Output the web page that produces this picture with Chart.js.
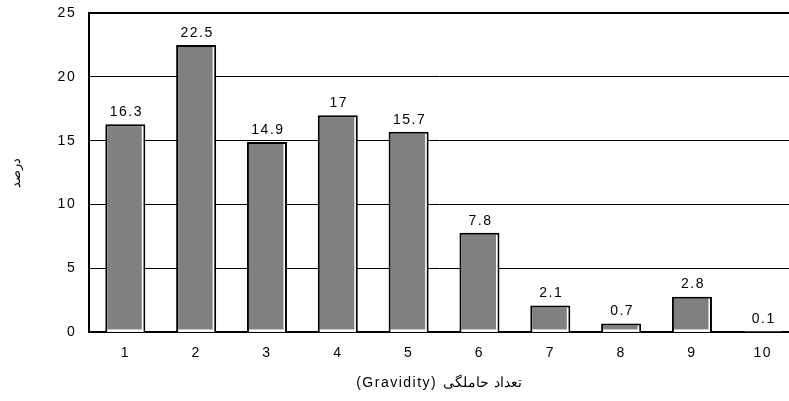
<!DOCTYPE html>
<html>
<head>
<meta charset="utf-8">
<script src="https://cdn.jsdelivr.net/npm/chart.js@4/dist/chart.umd.min.js"></script>
<style>
  html, body { margin: 0; padding: 0; background: #ffffff; }
  canvas { display: block; }
</style>
</head>
<body>
<canvas id="chart" width="789" height="401"></canvas>
<script>
// Gravidity categories and share of women (percent) in each
const gravidity = [1, 2, 3, 4, 5, 6, 7, 8, 9, 10];
const percent = [16.3, 22.5, 14.9, 17, 15.7, 7.8, 2.1, 0.7, 2.8, 0.1];
const yTickValues = [0, 5, 10, 15, 20, 25];
const xTitle = '(Gravidity) تعداد حاملگی';
const yTitle = 'درصد';

const FONT = "'Liberation Sans', Arial, sans-serif";

// All text on this chart is drawn slightly letter-spaced
const spacingPlugin = {
  id: 'spacing',
  beforeInit(chart) {
    const ctx = chart.ctx;
    const fill = ctx.fillText.bind(ctx);
    const measure = ctx.measureText.bind(ctx);
    const withSpacing = (fn) => {
      const prev = ctx.letterSpacing;
      ctx.letterSpacing = '1.5px';
      const r = fn();
      ctx.letterSpacing = prev;
      return r;
    };
    ctx.fillText = (t, x, y, m) => withSpacing(() => m === undefined ? fill(t, x, y) : fill(t, x, y, m));
    ctx.measureText = (t) => withSpacing(() => measure(t));
  }
};

// Inner white edge on each bar plus the value written above it
const barDecor = {
  id: 'barDecor',
  afterDatasetsDraw(chart) {
    const ctx = chart.ctx;
    const meta = chart.getDatasetMeta(0);
    ctx.save();
    meta.data.forEach((bar, i) => {
      const { x, y, base, width } = bar.getProps(['x', 'y', 'base', 'width'], true);
      const left = x - width / 2;
      const right = x + width / 2;
      const h = base - y;
      ctx.fillStyle = '#ffffff';
      if (h > 4) {
        ctx.fillRect(right - 3.5, y + 2, 1.5, h - 2);
        ctx.fillRect(left + 2, base - 2.5, width - 4, 2.5);
      }
      ctx.fillStyle = '#000000';
      ctx.font = '14px ' + FONT;
      ctx.textAlign = 'center';
      ctx.textBaseline = 'bottom';
      ctx.fillText(String(percent[i]), x + 1, y - 5);
    });
    ctx.restore();
  }
};

new Chart(document.getElementById('chart'), {
  type: 'bar',
  data: {
    datasets: [{
      data: gravidity.map((g, i) => ({ x: g, y: percent[i] })),
      backgroundColor: '#808080',
      borderColor: '#000000',
      borderWidth: { top: 2, left: 2, right: 2, bottom: 0 },
      borderSkipped: false,
      barPercentage: 0.565,
      categoryPercentage: 1.0
    }]
  },
  options: {
    responsive: false,
    animation: false,
    events: [],
    layout: { padding: { top: 13, right: 0, bottom: 9, left: 9 } },
    plugins: {
      legend: { display: false },
      tooltip: { enabled: false }
    },
    scales: {
      x: {
        type: 'linear',
        offset: false,
        min: 0.49,
        max: 10.37,
        z: 1,
        afterBuildTicks(scale) {
          scale.ticks = gravidity.map(v => ({ value: v }));
        },
        grid: { display: false, drawTicks: false },
        border: { display: true, color: '#000000', width: 2 },
        ticks: {
          color: '#000000',
          font: { family: FONT, size: 14 },
          padding: 12,
          autoSkip: false,
          maxRotation: 0,
          callback: v => String(v)
        },
        title: {
          display: true,
          text: xTitle,
          color: '#000000',
          font: { family: FONT, size: 14 },
          padding: { top: 2, bottom: 0 }
        }
      },
      y: {
        min: 0,
        max: 25,
        afterBuildTicks(scale) {
          scale.ticks = yTickValues.map(v => ({ value: v }));
        },
        afterFit(scale) {
          scale.paddingTop = 0;
          scale.paddingBottom = 0;
        },
        grid: {
          color: '#000000',
          lineWidth: c => (c.tick && c.tick.value === 25 ? 2 : 1),
          drawTicks: false
        },
        border: { display: true, color: '#000000', width: 2 },
        ticks: {
          color: '#000000',
          font: { family: FONT, size: 14 },
          padding: 13
        },
        title: {
          display: true,
          text: yTitle,
          color: '#000000',
          font: { family: FONT, size: 13 },
          padding: { top: 0, bottom: 20 }
        }
      }
    }
  },
  plugins: [spacingPlugin, barDecor]
});
</script>
</body>
</html>
